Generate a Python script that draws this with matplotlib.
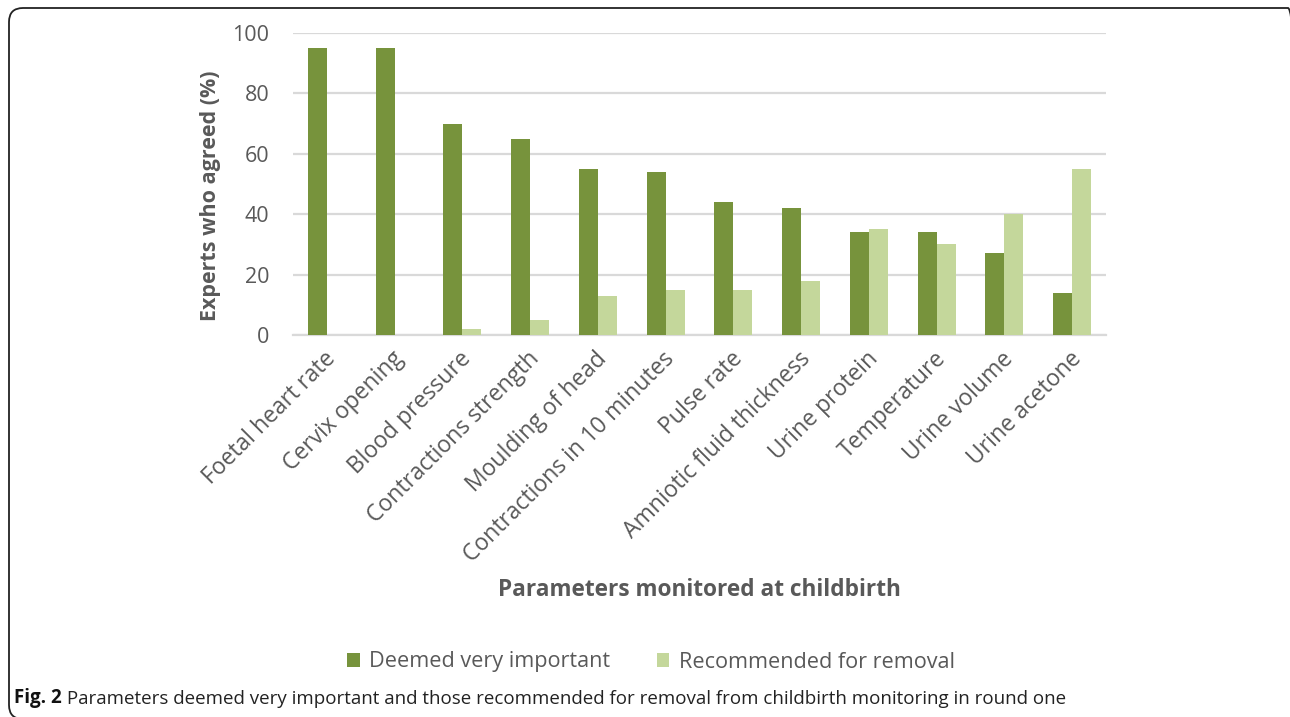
import matplotlib
matplotlib.use("Agg")
import matplotlib.pyplot as plt
from matplotlib.patches import FancyBboxPatch, Patch
from matplotlib.transforms import ScaledTranslation, IdentityTransform
import numpy as np

categories = ["Foetal heart rate", "Cervix opening", "Blood pressure",
              "Contractions strength", "Moulding of head",
              "Contractions in 10 minutes", "Pulse rate",
              "Amniotic fluid thickness", "Urine protein", "Temperature",
              "Urine volume", "Urine acetone"]
important = [95, 95, 70, 65, 55, 54, 44, 42, 34, 34, 27, 14]
removal = [0, 0, 2, 5, 13, 15, 15, 18, 35, 30, 40, 55]
series_names = ["Deemed very important", "Recommended for removal"]
y_ticks = [0, 20, 40, 60, 80, 100]

DARK = "#77933C"
LIGHT = "#C4D79B"
GRID = "#D9D9D9"
TXT = "#595959"

W, H = 1290, 717
plt.rcParams['font.family'] = ['Open Sans', 'DejaVu Sans']
fig = plt.figure(figsize=(W / 100, H / 100), dpi=100)

# rounded frame in pixel units (right and bottom edges run off the page)
frame = FancyBboxPatch((9, -2), 1302 - 9, H - 8 + 2,
                       boxstyle="round,pad=0,rounding_size=14",
                       transform=IdentityTransform(), fill=False,
                       edgecolor="#222222", linewidth=1.3)
fig.patches.append(frame)

ax = fig.add_axes([293 / W, 1 - 335 / H, 813 / W, (335 - 33) / H])
x = np.arange(len(categories))
bw = 0.28
ax.bar(x - bw / 2, important, bw, color=DARK, zorder=3)
ax.bar(x + bw / 2, removal, bw, color=LIGHT, zorder=3)

ax.set_xlim(-0.5, len(categories) - 0.5)
ax.set_ylim(0, 100)
ax.set_yticks(y_ticks)
ax.yaxis.grid(True, color=GRID, linewidth=1.6, zorder=0)
ax.set_axisbelow(True)
for s in ["top", "right", "left"]:
    ax.spines[s].set_visible(False)
ax.spines["bottom"].set_color(GRID)
ax.spines["bottom"].set_linewidth(1.6)
ax.tick_params(axis="y", length=0, pad=17, labelsize=15.5, labelcolor=TXT)
ax.tick_params(axis="x", length=0, pad=8.5)
ax.set_xticks(x)
ax.set_xticklabels(categories, rotation=45, ha="right", va="top",
                   rotation_mode="anchor", fontsize=16.5, color=TXT)
shift = ScaledTranslation(-3 / 100, 0, fig.dpi_scale_trans)
for lbl in ax.get_xticklabels():
    lbl.set_transform(lbl.get_transform() + shift)

ax.set_ylabel("Experts who agreed (%)", fontsize=15.5, fontweight="bold",
              color=TXT)
ax.yaxis.set_label_coords(-0.089, 0.46)
fig.text(699 / W, 1 - 590 / H, "Parameters monitored at childbirth",
         ha="center", va="center", fontsize=16.3, fontweight="bold", color=TXT)

handles = [Patch(facecolor=DARK), Patch(facecolor=LIGHT)]
fig.legend(handles, series_names, loc="center", bbox_to_anchor=(651 / W, 1 - 662 / H),
           ncol=2, frameon=False, fontsize=15.6, labelcolor=TXT,
           handlelength=0.58, handleheight=0.58, handletextpad=0.42,
           columnspacing=2.15)

t1 = fig.text(14 / W, 1 - 698 / H, "Fig. 2", ha="left", va="center",
              fontsize=13.5, fontweight="bold", color="#111111")
ax.annotate(" Parameters deemed very important and those recommended for removal "
            "from childbirth monitoring in round one",
            xy=(1, 0), xycoords=t1, ha="left", va="bottom",
            fontsize=13.5, color="#222222", annotation_clip=False)

fig.savefig("out.png", dpi=100)
